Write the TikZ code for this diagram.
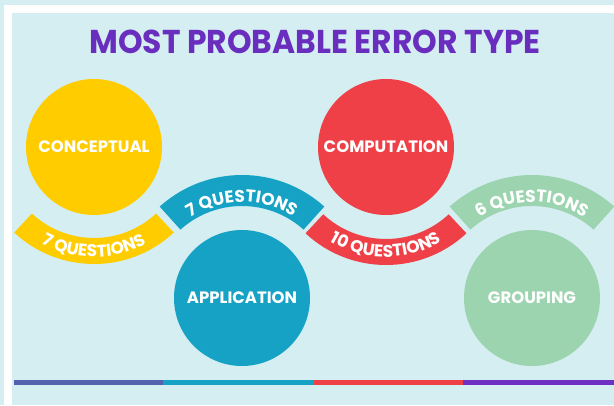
\documentclass[tikz,border=0pt]{standalone}
\usepackage{fontspec}
\setmainfont{Poppins}
\usetikzlibrary{calc,decorations.text}
\definecolor{bgc}{HTML}{D4EEF2}
\definecolor{cyel}{HTML}{FFCC00}
\definecolor{cteal}{HTML}{16A2C4}
\definecolor{cred}{HTML}{EF4047}
\definecolor{cgreen}{HTML}{9DD4B0}
\definecolor{cpurple}{HTML}{6A2EBF}
\definecolor{cslate}{HTML}{5461B0}
\definecolor{cviolet}{HTML}{6D30C2}
\newcommand\bandfont{\bfseries\fontsize{17}{19}\selectfont}
\newcommand\circfont{\bfseries\fontsize{16.5}{19}\selectfont}
\tikzset{
  bubble/.style={circle, fill=#1, minimum size=136pt, inner sep=0pt, text=white, font=\circfont},
  barseg/.style={fill=#1, draw=none},
  bandtext/.style={decorate, decoration={text along path, text align=center, text={|\color{white}\bandfont|#1}}},
}
\begin{document}
\begin{tikzpicture}[x=1pt,y=1pt]
\useasboundingbox (0,0) rectangle (614,405);
% background and frame
\fill[bgc] (0,0) rectangle (614,405);
\fill[white] (4,0) rectangle (614,400);
\fill[bgc] (12,0) rectangle (614,392);
% title
\node[font=\bfseries\fontsize{33}{36}\selectfont, text=cpurple, inner sep=0pt, xscale=0.95] (title) at (315,363.5) {MOST PROBABLE ERROR TYPE};
% centres
\coordinate (yc) at (94,258);
\coordinate (rc) at (386,258);
\coordinate (tc) at (242,107);
\coordinate (gc) at (532,107);
% bands (bottom)
\fill[cyel] ($(yc)+(227:117)$) arc[start angle=227,end angle=313,radius=117] -- ($(yc)+(313:91)$) arc[start angle=313,end angle=227,radius=91] -- cycle;
\fill[cred] ($(rc)+(227:118)$) arc[start angle=227,end angle=313,radius=118] -- ($(rc)+(313:92)$) arc[start angle=313,end angle=227,radius=92] -- cycle;
% bands (top)
\fill[cteal] ($(tc)+(132:123)$) arc[start angle=132,end angle=48,radius=123] -- ($(tc)+(48:92)$) arc[start angle=48,end angle=132,radius=92] -- cycle;
\fill[cgreen] ($(gc)+(132:123)$) arc[start angle=132,end angle=48,radius=123] -- ($(gc)+(48:92)$) arc[start angle=48,end angle=132,radius=92] -- cycle;
% band texts
\path[bandtext={7 QUESTIONS}] ($(yc)+(222:110)$) arc[start angle=222,end angle=318,radius=110];
\path[bandtext={10 QUESTIONS}] ($(rc)+(222:110)$) arc[start angle=222,end angle=318,radius=110];
\path[bandtext={7 QUESTIONS}] ($(tc)+(138:96)$) arc[start angle=138,end angle=42,radius=96];
\path[bandtext={6 QUESTIONS}] ($(gc)+(138:96)$) arc[start angle=138,end angle=42,radius=96];
% circles
\node[bubble=cyel] (concept) at (yc) {CONCEPTUAL};
\node[bubble=cred] (comput) at (rc) {COMPUTATION};
\node[bubble=cteal] (appl) at (tc) {APPLICATION};
\node[bubble=cgreen] (group) at (gc) {GROUPING};
% bottom bar
\fill[barseg=cslate] (14,20) rectangle (163,25);
\fill[barseg=cteal] (163,20) rectangle (314,25);
\fill[barseg=cred] (314,20) rectangle (463,25);
\fill[barseg=cviolet] (463,20) rectangle (614,25);
\end{tikzpicture}
\end{document}
